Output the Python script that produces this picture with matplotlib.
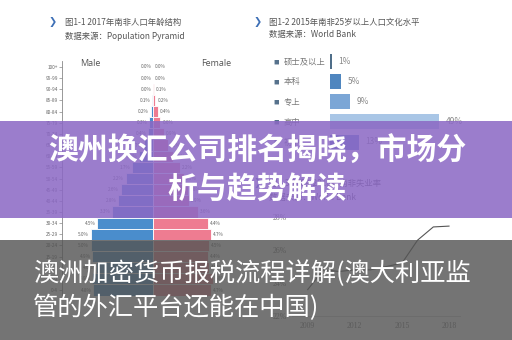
import matplotlib
matplotlib.use("Agg")
import matplotlib.pyplot as plt
from matplotlib.patches import Rectangle
import numpy as np

plt.rcParams['font.family'] = ['Noto Sans CJK SC', 'DejaVu Sans']

# pyramid data (top to bottom)
ages = ["100+", "95-99", "90-94", "85-89", "80-84", "75-79", "70-74", "65-69",
        "60-64", "55-59", "50-54", "45-49", "40-44", "35-39", "30-34", "25-29",
        "20-24", "15-19", "10-14", "5-9", "0-4"]
male = [0.0, 0.0, 0.0, 0.1, 0.2, 0.3, 0.4, 0.7, 1.1, 1.7, 2.2, 2.6, 2.8, 3.3,
        4.5, 5.0, 5.0, 4.9, 4.6, 4.9, 4.8]
female = [0.0, 0.0, 0.1, 0.2, 0.4, 0.6, 0.9, 1.2, 1.6, 2.2, 2.5, 2.8, 2.9, 3.6,
          4.4, 4.7, 4.5, 4.4, 4.5, 4.8, 4.7]

# education data
edu_cats = ["硕士及以上", "本科", "专上", "高中", "初中"]
edu_vals = [1, 5, 9, 49, 13]
edu_colors = ["#4f6e89", "#4f86bf", "#7ba6d6", "#a9c6e6", "#5f86cc"]

# unemployment data
years = [2009, 2010, 2011, 2012, 2013, 2014, 2015, 2016, 2017, 2018]
unemp = [23.6, 24.8, 24.7, 24.8, 24.8, 25.0, 25.2, 26.6, 27.4, 27.45]

W, H = 512, 340


def box(l, t, r, b):
    return [l / W, 1 - b / H, (r - l) / W, (b - t) / H]


fig = plt.figure(figsize=(5.12, 3.4), dpi=100)
fig.patch.set_facecolor("white")

# titles
blue = "#3d6fb6"
fig.text(53 / W, 1 - 22 / H, "❯", color=blue, fontsize=7, va="center", ha="center")
fig.text(65 / W, 1 - 22 / H, "图1-1 2017年南非人口年龄结构", color="#555555", fontsize=6, va="center")
fig.text(65 / W, 1 - 36 / H, "数据来源：Population Pyramid", color="#555555", fontsize=6, va="center")
fig.text(258 / W, 1 - 22 / H, "❯", color=blue, fontsize=7, va="center", ha="center")
fig.text(269 / W, 1 - 22 / H, "图1-2 2015年南非25岁以上人口文化水平", color="#555555", fontsize=6, va="center")
fig.text(269 / W, 1 - 35 / H, "数据来源：World Bank", color="#555555", fontsize=6, va="center")
fig.text(258 / W, 1 - 183 / H, "❯", color=blue, fontsize=7, va="center", ha="center")
fig.text(269 / W, 1 - 183 / H, "图1-3 2009-2018年南非失业率", color="#555555", fontsize=6, va="center")
fig.text(269 / W, 1 - 197 / H, "数据来源：World Bank", color="#555555", fontsize=6, va="center")

# population pyramid
ax1 = fig.add_axes(box(62, 61.4, 245, 295.6))
y = np.arange(len(ages))
m = np.array(male)
f = np.array(female)
ax1.barh(y, -m, height=1.0, color="#4a8dcc", edgecolor="white", linewidth=0.6)
ax1.barh(y, f, height=1.0, color="#ee7c91", edgecolor="white", linewidth=0.6)
for i in range(len(ages)):
    ax1.text(-m[i] - 0.15, i, f"{m[i]:.1f}%", ha="right", va="center", fontsize=3.4, color="#666666")
    ax1.text(f[i] + 0.15, i, f"{f[i]:.1f}%", ha="left", va="center", fontsize=3.4, color="#666666")
ax1.set_xlim(-(153 - 62) / 12.4, (245 - 153) / 12.4)
ax1.set_ylim(len(ages) - 0.5, -0.5)
ax1.set_yticks(y)
ax1.set_yticklabels(ages, fontsize=3.4, color="#666666")
ax1.set_xticks([])
ax1.tick_params(axis="y", length=2, width=0.5, color="#888888", pad=1)
for s in ["top", "right", "bottom"]:
    ax1.spines[s].set_visible(False)
ax1.spines["left"].set_color("#888888")
ax1.spines["left"].set_linewidth(0.6)
ax1.patch.set_alpha(0)
fig.text(90 / W, 1 - 63 / H, "Male", fontsize=6.5, color="#555555", ha="center", va="center",
         family=["Open Sans", "DejaVu Sans"])
fig.text(216 / W, 1 - 63 / H, "Female", fontsize=6.5, color="#555555", ha="center", va="center",
         family=["Open Sans", "DejaVu Sans"])

# education bars
ax2 = fig.add_axes(box(330, 52, 480, 152))
ye = np.arange(len(edu_cats))
ax2.barh(ye, edu_vals, height=0.75, color=edu_colors)
for i, v in enumerate(edu_vals):
    ax2.text(v + 2.8, i, f"{v}%", va="center", fontsize=6, color="#888888")
    ax2.text(-0.375, i, "■", transform=ax2.get_yaxis_transform(), va="center", ha="left",
             fontsize=4, color="#56728c")
    ax2.text(-0.31, i, edu_cats[i], transform=ax2.get_yaxis_transform(), va="center", ha="left",
             fontsize=6, color="#777777")
ax2.set_xlim(0, 150 / 2.23)
ax2.set_ylim(len(edu_cats) - 0.5, -0.5)
ax2.axis("off")

# unemployment line
ax3 = fig.add_axes(box(292, 205, 460, 316))
ax3.plot(years, unemp, color="#555555", linewidth=0.8)
ax3.set_xlim(2008, 2018.7)
ax3.set_ylim(22, 28.73)
ax3.set_xticks([2009, 2012, 2015, 2018])
ax3.set_yticks([22, 24, 26, 28])
ax3.set_yticklabels(["22%", "24%", "26%", "28%"])
ax3.tick_params(length=0, labelsize=5.5, labelcolor="#777777", pad=4)
for lab in ax3.get_xticklabels() + ax3.get_yticklabels():
    lab.set_family(["Liberation Serif", "DejaVu Serif"])
for s in ["top", "right", "left"]:
    ax3.spines[s].set_visible(False)
ax3.spines["bottom"].set_color("#cccccc")
ax3.spines["bottom"].set_linewidth(0.6)
ax3.patch.set_alpha(0)

# overlays
fig.add_artist(Rectangle((0, 1 - 218 / H), 1, 97 / H, transform=fig.transFigure,
                         facecolor="#8b68c4", alpha=0.86, edgecolor="none", zorder=10))
fig.add_artist(Rectangle((0, 0), 1, 100 / H, transform=fig.transFigure,
                         facecolor="#555555", alpha=0.82, edgecolor="none", zorder=10))

fig.text(257 / W, 1 - 151 / H, "澳州换汇公司排名揭晓，市场分", color="white", fontsize=21.5,
         fontweight="bold", ha="center", va="center", zorder=11)
fig.text(257 / W, 1 - 189 / H, "析与趋势解读", color="white", fontsize=21.5,
         fontweight="bold", ha="center", va="center", zorder=11)
fig.text(33 / W, 1 - 274 / H, "澳洲加密货币报税流程详解(澳大利亚监", color="white", fontsize=18.2,
         ha="left", va="center", zorder=11)
fig.text(33 / W, 1 - 308 / H, "管的外汇平台还能在中国)", color="white", fontsize=18.2,
         ha="left", va="center", zorder=11)

fig.savefig("out.png", dpi=100)
